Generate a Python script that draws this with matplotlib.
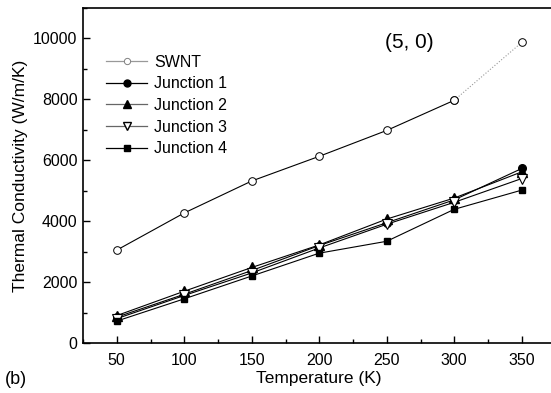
import matplotlib.pyplot as plt
from matplotlib.ticker import MultipleLocator

plt.rcParams['font.family'] = ['Liberation Sans', 'DejaVu Sans']

# Temperature (K)
temperature = [50, 100, 150, 200, 250, 300, 350]

# Thermal conductivity (W/m/K)
swnt = [3050, 4270, 5320, 6130, 6980, 7970, 9870]
junction1 = [850, 1600, 2380, 3200, 3950, 4700, 5730]
junction2 = [900, 1700, 2480, 3220, 4070, 4760, 5620]
junction3 = [800, 1560, 2300, 3120, 3900, 4620, 5400]
junction4 = [720, 1450, 2200, 2950, 3340, 4390, 5020]

fig = plt.figure(figsize=(5.51, 3.93), dpi=100)
ax = fig.add_axes([83/551, 1 - 343/393, (555.5 - 83)/551, (343 - 8)/393])

# SWNT, last segment drawn light dotted as in the original
ax.plot(temperature[:-1], swnt[:-1], color='k', lw=0.8, marker='o', ms=5.5,
        mfc='white', mec='k', mew=0.7, zorder=3)
ax.plot(temperature[-2:], swnt[-2:], color='0.6', lw=0.8, ls=':',
        marker='o', ms=5.5, mfc='white', mec='k', mew=0.7, zorder=3)

ax.plot(temperature, junction1, color='k', lw=0.8, marker='o', ms=5.5, mfc='k', mec='k')
ax.plot(temperature, junction2, color='k', lw=0.8, marker='^', ms=6.5, mfc='k', mec='k')
ax.plot(temperature, junction3, color='k', lw=0.8, marker='v', ms=6.5, mfc='white', mec='k', mew=0.8)
ax.plot(temperature, junction4, color='k', lw=0.8, marker='s', ms=5, mfc='k', mec='k')

# Legend handles
labels = ['SWNT', 'Junction 1', 'Junction 2', 'Junction 3', 'Junction 4']
handles = [
    plt.Line2D([], [], color='0.6', lw=0.9, marker='o', ms=4.5, mfc='white', mec='0.5', mew=0.7),
    plt.Line2D([], [], color='k', lw=0.9, marker='o', ms=5, mfc='k', mec='k'),
    plt.Line2D([], [], color='0.4', lw=0.9, marker='^', ms=5.5, mfc='k', mec='k'),
    plt.Line2D([], [], color='0.4', lw=0.9, marker='v', ms=5.5, mfc='white', mec='k'),
    plt.Line2D([], [], color='k', lw=0.9, marker='s', ms=4.5, mfc='k', mec='k'),
]
ax.legend(handles, labels, loc='upper left', bbox_to_anchor=(0.035, 0.88),
          frameon=False, fontsize=11.5, handlelength=2.6, handletextpad=0.4,
          labelspacing=0.42, borderaxespad=0)

ax.set_xlim(25, 375)
ax.set_ylim(0, 11000)
ax.xaxis.set_major_locator(MultipleLocator(50))
ax.xaxis.set_minor_locator(MultipleLocator(25))
ax.yaxis.set_major_locator(MultipleLocator(2000))
ax.yaxis.set_minor_locator(MultipleLocator(1000))
ax.tick_params(which='both', direction='in', labelsize=11.5, width=1)
ax.tick_params(which='major', length=5)
ax.tick_params(which='minor', length=3)
ax.tick_params(axis='x', pad=7)
ax.tick_params(axis='y', pad=4)
for s in ax.spines.values():
    s.set_linewidth(1.2)

ax.set_xlabel('Temperature (K)', fontsize=12.5, labelpad=2)
ax.set_ylabel('Thermal Conductivity (W/m/K)', fontsize=12.5, labelpad=4)

fig.text(385/551, 1 - 42/393, '(5, 0)', fontsize=15, va='center', ha='left')
fig.text(5/551, 1 - 380/393, '(b)', fontsize=13, va='center', ha='left')

fig.savefig('out.png', dpi=100)
